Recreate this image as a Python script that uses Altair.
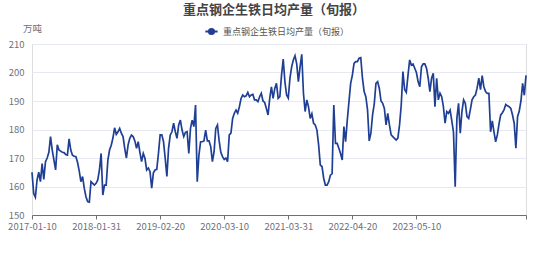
import altair as alt
import pandas as pd
import calendar

# 旬度日期（类别轴）
dates = []
for yr in range(2017, 2026):
    for mo in range(1, 13):
        last = calendar.monthrange(yr, mo)[1]
        for d in (10, 20, last):
            dates.append(f"{yr}-{mo:02d}-{d:02d}")

values = [
    165, 157.5, 156.2, 162.3, 165, 161.7, 168, 162.5, 168.7, 170,
    172, 177.5, 172.8, 169.3, 165.8, 174.6, 172.8, 172.4, 172, 171.9,
    171.2, 171, 176.7, 172.8, 171, 170.6, 170.5, 168.5, 165.5, 161.7,
    163.5, 159.4, 156.4, 154.7, 154.5, 161.7, 161.1, 160.5, 161.1, 162.3,
    165.8, 171.6, 157, 160.5, 160.5, 169.3, 172.8, 174.5, 177, 180.6,
    178.3, 179.2, 180.4, 178.7, 177.5, 173.4, 170, 174.6, 176.9, 178,
    177.5, 176, 173.4, 175.7, 172, 168.7, 171.6, 169.9, 165.8, 166.5,
    165.2, 159.4, 164.8, 165.8, 166, 171.6, 178.1, 178.1, 175.7, 169.9,
    163.5, 173.4, 178.1, 179.2, 182.2, 179.2, 176.9, 181.6, 183.3, 179.8,
    177.5, 179, 179.2, 171.6, 180.4, 183.3, 181, 188.6, 161.7, 171,
    175.7, 175.7, 176, 179.8, 176, 176, 174, 168.7, 172.2, 180.4,
    181.6, 176, 172, 170.5, 169.5, 170, 168.7, 178.1, 178.7, 183.9,
    185.7, 186.8, 185.7, 188, 190.9, 192.1, 191.5, 191.8, 193, 191.5,
    192.1, 192.3, 190.4, 190.4, 189.8, 191.5, 192.7, 190, 189.5, 187.4,
    185.1, 190.9, 195, 190.9, 194.4, 196.2, 190.9, 191.5, 199.1, 204.7,
    196.8, 192.1, 191, 198, 202, 204.4, 205.9, 203, 196.8, 202,
    206.4, 192.7, 186.3, 190.4, 188, 183.9, 185.5, 182.2, 181.6, 179.8,
    174.6, 167.5, 167, 162.9, 160.5, 160.5, 161.7, 164, 164.5, 188.6,
    175.1, 175.1, 173.4, 171.6, 169.3, 181, 175.7, 183.3, 189.8, 196.2,
    199, 203.2, 203.8, 203.8, 205, 205.2, 198, 193.3, 191.5, 187,
    176, 178.7, 185.1, 189, 196.2, 196.8, 194.4, 190, 189.2, 187.4,
    181.6, 185.7, 181.6, 178.1, 177.5, 176.9, 176.3, 177, 181.6, 188.6,
    200.3, 194, 193, 199, 204.4, 202.6, 203, 201.5, 200, 196.8,
    195, 202, 203, 203, 201.5, 198, 193.3, 198, 199.7, 188,
    198, 190.4, 192.7, 191.5, 188, 182.2, 186.3, 185.7, 186.8, 183,
    179, 159.9, 183.9, 189.2, 178.7, 186.3, 190.4, 189.2, 184.5, 183.9,
    187, 190.4, 191.5, 192.1, 194.5, 198, 194, 198.9, 195, 193.3,
    192.7, 192.7, 179.2, 183, 179.2, 175.7, 178.1, 182, 185.1, 185.9,
    187, 188.8, 188.3, 188, 187.4, 185.1, 182.2, 173.4, 184.5, 186.5,
    190, 196.2, 192, 199,
]

dates = dates[:len(values)]
series_name = "重点钢企生铁日均产量（旬报）"
tick_labels = ["2017-01-10", "2018-01-31", "2019-02-20", "2020-03-10",
               "2021-03-31", "2022-04-20", "2023-05-10"]
y_ticks = [150, 160, 170, 180, 190, 200, 210]

df = pd.DataFrame({"date": dates, "value": values, "series": series_name})

FONT = "Noto Sans CJK SC"
LINE = "#1f3f94"
GRAY = "#6e7079"

legend_path = "M-1,0L1,0M0.42,0A0.42,0.42,0,1,1,-0.42,0A0.42,0.42,0,1,1,0.42,0Z"

chart = alt.Chart(df).mark_line(strokeWidth=1.7, interpolate="linear").encode(
    x=alt.X("date:O", sort=None,
            scale=alt.Scale(type="point", padding=0),
            axis=alt.Axis(values=tick_labels + [dates[-1]],
                          labelExpr=f"datum.value == '{dates[-1]}' ? '' : datum.value",
                          labelAngle=0, title=None, grid=False,
                          domainColor=GRAY, tickColor=GRAY, tickSize=4,
                          labelColor=GRAY, labelFontSize=9.5, labelFont=FONT,
                          labelPadding=2, labelOverlap=False)),
    y=alt.Y("value:Q",
            scale=alt.Scale(domain=[150, 210], nice=False, zero=False),
            axis=alt.Axis(values=y_ticks, title="万吨", titleAngle=0,
                          titleX=0, titleY=-16, titleAlign="center",
                          titleBaseline="middle", titleFontSize=9.5,
                          titleFontWeight="normal", titleColor=GRAY, titleFont=FONT,
                          domain=False, ticks=False, grid=True,
                          gridColor="#e6e9f0", labelColor=GRAY, labelFontSize=9.5,
                          labelFont=FONT, labelPadding=8)),
    color=alt.Color("series:N",
                    scale=alt.Scale(range=[LINE]),
                    legend=alt.Legend(title=None, orient="none", legendX=172, legendY=-20,
                                      direction="horizontal", symbolType=legend_path,
                                      symbolSize=150, symbolStrokeWidth=2,
                                      symbolFillColor=LINE, labelFont=FONT,
                                      labelFontSize=9, labelColor="#555",
                                      labelOffset=4)),
).properties(
    width=494,
    height=171,
    title=alt.TitleParams(series_name, fontSize=13, fontWeight="bold", color="#444",
                          font=FONT, anchor="middle", frame="group", offset=6, dx=-5),
    autosize=alt.AutoSizeParams(type="none"),
    padding={"left": 32, "top": 44, "right": 28, "bottom": 55},
).configure_view(stroke=None).configure(background="white")

chart.save("out.html", embed_options={"renderer": "svg", "actions": False})
